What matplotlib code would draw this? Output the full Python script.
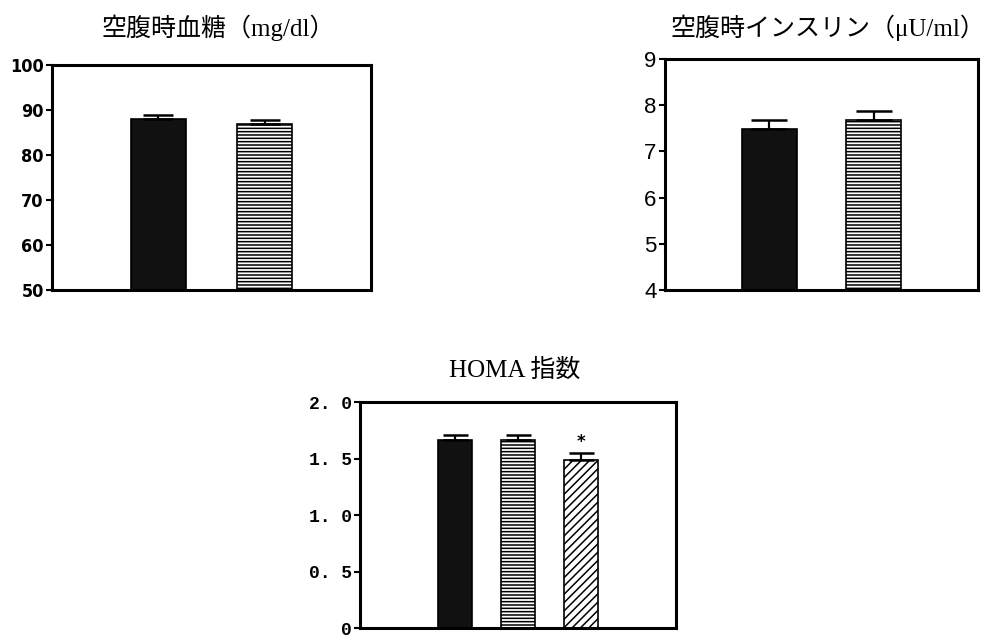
import matplotlib
matplotlib.use("Agg")
import matplotlib.pyplot as plt

# ---- data ----
glucose_title = "空腹時血糖（mg/dl）"
glucose_vals = [88.0, 86.8]
glucose_err = [1.0, 1.0]
glucose_ticks = [50, 60, 70, 80, 90, 100]

insulin_title = "空腹時インスリン（μU/ml）"
insulin_vals = [7.48, 7.68]
insulin_err = [0.2, 0.2]
insulin_ticks = [4, 5, 6, 7, 8, 9]

homa_title = "HOMA 指数"
homa_vals = [1.66, 1.66, 1.49]
homa_err = [0.05, 0.05, 0.06]
homa_ticks = [0, 0.5, 1.0, 1.5, 2.0]
homa_ticklabels = ["0", "0. 5", "1. 0", "1. 5", "2. 0"]
homa_marks = ["", "", "*"]

hatches = ["", "-----", "////"]
faces = ["#111111", "white", "white"]

plt.rcParams['hatch.linewidth'] = 1.1
title_font = ['Liberation Serif', 'Noto Sans CJK JP']

fig = plt.figure(figsize=(9.95, 6.37), dpi=100)

def style_axes(ax):
    for s in ax.spines.values():
        s.set_linewidth(2.2)
    ax.set_xticks([])
    ax.tick_params(axis='y', direction='out', length=4, width=1.5, pad=2)

def draw(ax, vals, err, xs, width, capsize):
    for i, (x, v, e) in enumerate(zip(xs, vals, err)):
        ax.bar(x, v, width=width, color=faces[i], edgecolor='black',
               hatch=hatches[i], linewidth=1.2, zorder=2)
        ax.errorbar(x, v, yerr=[[0], [e]], fmt='none', ecolor='black',
                    elinewidth=1.6, capsize=capsize, capthick=1.8, zorder=3)

# Panel 1
ax1 = fig.add_axes([0.0523, 0.5447, 0.3206, 0.3532])
draw(ax1, glucose_vals, glucose_err, [1, 2], 0.52, 11)
ax1.set_xlim(0, 3)
ax1.set_ylim(50, 100)
ax1.set_yticks(glucose_ticks)
ax1.set_yticklabels([str(t) for t in glucose_ticks],
                    family=['DejaVu Sans'], stretch='condensed',
                    fontweight='bold', fontsize=13)
style_axes(ax1)
fig.text(0.219, 0.957, glucose_title, ha='center', va='center',
         family=title_font, fontsize=18)

# Panel 2
ax2 = fig.add_axes([0.6683, 0.5447, 0.3146, 0.3626])
draw(ax2, insulin_vals, insulin_err, [1, 2], 0.53, 13)
ax2.set_xlim(0, 3)
ax2.set_ylim(4, 9)
ax2.set_yticks(insulin_ticks)
ax2.set_yticklabels([str(t) for t in insulin_ticks],
                    family=['Liberation Sans', 'DejaVu Sans'], fontsize=16)
style_axes(ax2)
fig.text(0.832, 0.957, insulin_title, ha='center', va='center',
         family=title_font, fontsize=18)

# Panel 3
ax3 = fig.add_axes([0.3618, 0.0141, 0.3176, 0.3548])
xs3 = [1.5, 2.5, 3.5]
draw(ax3, homa_vals, homa_err, xs3, 0.54, 9)
ax3.set_xlim(0, 5)
ax3.set_ylim(0, 2.0)
ax3.set_yticks(homa_ticks)
ax3.set_yticklabels(homa_ticklabels,
                    family=['Liberation Mono', 'DejaVu Sans Mono'],
                    fontweight='bold', fontsize=13)
style_axes(ax3)
for x, v, e, m in zip(xs3, homa_vals, homa_err, homa_marks):
    if m:
        ax3.text(x, v + e + 0.1, m, ha='center', va='center',
                 fontsize=12, fontweight='bold')
fig.text(0.517, 0.419, homa_title, ha='center', va='center',
         family=title_font, fontsize=18)

fig.savefig("out.png", dpi=100)
